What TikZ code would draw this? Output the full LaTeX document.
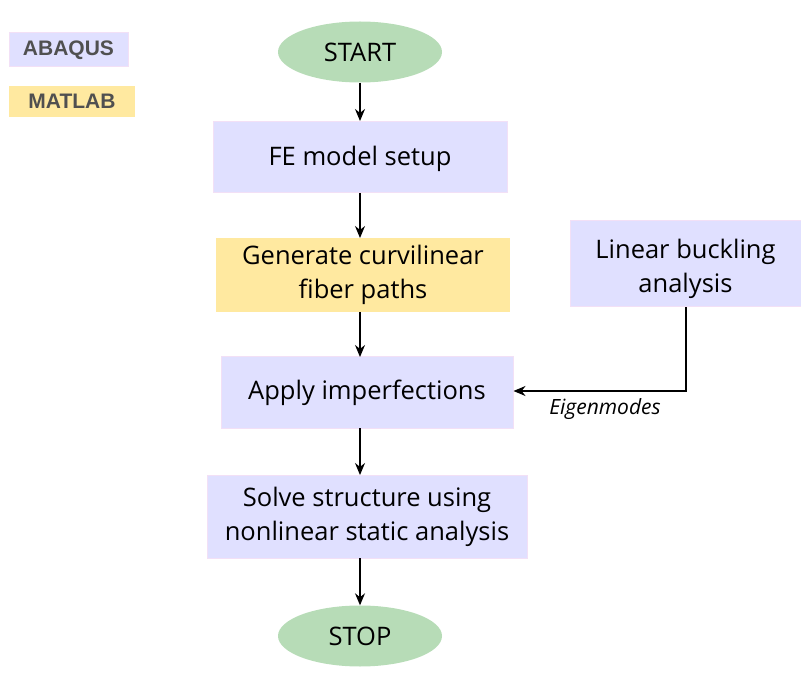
\documentclass[tikz,border=0pt]{standalone}
\usepackage{fontspec}
\setmainfont{Open Sans}
\newfontfamily\legendfont{Liberation Sans}
\usetikzlibrary{arrows.meta}
\usetikzlibrary{shapes.geometric}
\definecolor{abaqus}{RGB}{224,224,255}
\definecolor{matlab}{RGB}{255,233,160}
\definecolor{terminal}{RGB}{183,220,183}
\definecolor{edge}{RGB}{242,224,246}
\definecolor{legendtext}{RGB}{80,80,80}

\begin{document}
\begin{tikzpicture}[x=1pt,y=-1pt,
  every node/.style={font=\fontsize{25.5}{34}\selectfont, align=center, inner sep=0pt},
  term/.style={ellipse, fill=terminal, minimum width=164pt, minimum height=61pt},
  abq/.style={rectangle, fill=abaqus, draw=edge, line width=1pt},
  mat/.style={rectangle, fill=matlab},
  leg/.style={rectangle, font=\legendfont\fontsize{21}{24}\selectfont\bfseries, text=legendtext},
  flow/.style={-{Stealth[length=12pt,width=10pt]}, line width=1.2pt}]
\useasboundingbox (0,0) rectangle (801,676);

% legend
\node[leg, abq, minimum width=119pt, minimum height=34pt] (abaqus) at (68.5,50) {ABAQUS};
\node[leg, mat, minimum width=126pt, minimum height=31pt] (matlab) at (72,101.5) {MATLAB};

% main flow
\node[term] (start) at (360,52) {START};
\node[abq, minimum width=294pt, minimum height=71pt, text depth=4pt] (setup) at (360,157.5) {FE model setup};
\node[mat, minimum width=294pt, minimum height=74pt] (fiber) at (363,275) {Generate curvilinear\\fiber paths};
\node[abq, minimum width=292pt, minimum height=71pt] (imperf) at (367,392.5) {Apply imperfections};
\node[abq, minimum width=320pt, minimum height=83pt] (solve) at (367,516.5) {Solve structure using\\nonlinear static analysis};
\node[term] (stop) at (360,636) {STOP};
\node[abq, minimum width=231pt, minimum height=86pt] (buckle) at (685.5,264) {};
\node (bucktext) at (685.5,269) {Linear buckling\\analysis};

\coordinate (bend) at (686,391);
\node[font=\itshape\fontsize{21}{24}\selectfont] (eig) at (605,409) {Eigenmodes};

\draw[flow] (start) to (360,121);
\draw[flow] (360,193) to (360,238);
\draw[flow] (360,312) to (360,357);
\draw[flow] (360,428) to (360,475);
\draw[flow] (360,558) to (stop);
\draw[flow] (buckle.south -| bend) to (bend) to (imperf.east |- bend);
\end{tikzpicture}
\end{document}
